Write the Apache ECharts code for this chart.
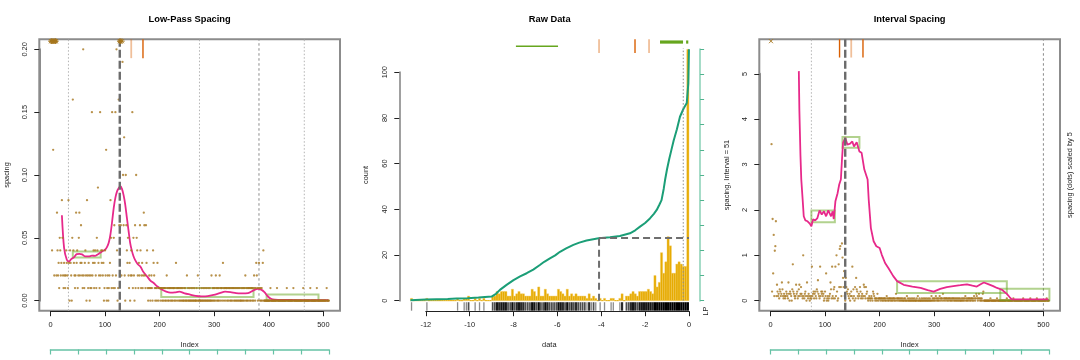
<!DOCTYPE html>
<html><head><meta charset="utf-8">
<script src="https://cdn.jsdelivr.net/npm/echarts@6/dist/echarts.min.js"></script>
<style>html,body{margin:0;padding:0;background:#fff}#c{width:1080px;height:360px}</style>
</head><body><div id="c"></div>
<script>
// ---------------- DATA ----------------
// spacing values (in hundredths) for index 1..510
const spacingHundredths = [
 130,69,4,36,12,29,2,22,24,35,
 2,7,4,2,3,1,5,4,2,3,
 8,5,2,1,3,2,1,2,4,3,
 2,1,8,3,0,4,3,2,0,5,
 16,4,3,2,1,2,7,3,4,1,
 2,5,7,2,3,6,3,2,1,20,
 2,1,3,4,2,0,8,2,1,3,
 2,0,1,2,1,15,2,3,4,1,
 3,4,2,1,5,4,9,3,2,1,
 15,2,4,3,4,2,3,0,1,4,
 2,12,0,1,2,0,1,2,3,8,
 5,1,15,2,1,5,6,1,15,2,
 20,4,0,1,16,6,22.8,24,6,2,
 25.2,19,10,6,13,2,0,10,6,4,
 3,5,2,1,3,0,2,4,2,15,
 1,5,2,0,6,1,10,5,4,2,
 1,3,2,6,4,1,2,3,1,2,
 7,6,2,1,6,3,4,1,0,1,
 2,1,0,1,2,1,0,4,3,2,
 1,0,1,1,0,3,1,0,1,1,
 1,0,1,1,0,1,0,1,1,0,
 1,0,2,1,0,1,0,1,1,0,
 1,0,1,0,1,1,0,1,0,3,
 1,0,1,1,0,1,0,1,0,1,
 0,1,0,0,1,0,1,0,0,2,
 0,1,0,0,1,0,0,1,0,0,
 1,0,0,1,0,0,0,1,0,2,
 0,0,1,0,0,0,1,0,0,1,
 0,0,1,0,0,1,0,0,1,0,
 0,1,0,0,2,0,1,0,1,0,
 1,0,2,1,0,1,0,1,0,2,
 1,0,1,1,0,3,1,0,1,1,
 0,1,1,0,1,0,1,1,0,1,
 0,1,0,1,1,0,1,0,1,0,
 1,0,1,0,1,0,1,0,0,1,
 0,1,0,1,0,1,2,0,1,0,
 1,0,1,1,0,1,0,1,1,0,
 1,0,2,1,0,1,3,2,1,0,
 1,3,1,0,1,0,1,0,3,4,
 0,0,0,0,0,0,0,0,0,0,
 0,0,1,0,0,0,0,0,0,0,
 0,0,0,0,1,0,0,0,0,0,
 0,0,0,0,0,0,0,0,0,0,
 0,0,1,0,0,0,0,0,0,0,
 0,0,0,0,1,0,0,0,0,0,
 0,0,0,0,0,0,0,0,0,0,
 0,0,1,0,0,0,0,0,0,0,
 0,0,0,0,0,1,0,0,0,0,
 0,0,0,0,0,0,0,1,0,0,
 0,0,0,0,0,0,0,0,0,0,
 0,0,0,0,0,1,0,0,0,0
];
const lowPass = [[21,0.068],[25,0.042],[30,0.0325],[34,0.031],[38,0.033],[43,0.0345],[48,0.037],[53,0.0372],[58,0.0368],[64,0.0352],[70,0.0352],[76,0.0358],[82,0.0357],[88,0.0372],[94,0.039],[100,0.0405],[104,0.043],[107,0.0465],[110,0.053],[113,0.063],[116,0.074],[119,0.082],[122,0.087],[125,0.0895],[128,0.0912],[131,0.089],[134,0.084],[137,0.0765],[140,0.066],[143,0.056],[146,0.046],[149,0.04],[152,0.0355],[155,0.0325],[160,0.029],[165,0.027],[170,0.023],[177,0.0193],[183,0.016],[189,0.014],[196,0.0113],[204,0.0089],[212,0.0072],[220,0.0064],[228,0.0066],[236,0.0072],[246,0.0058],[256,0.0048],[266,0.0038],[277,0.0034],[288,0.0036],[299,0.0046],[310,0.006],[320,0.0072],[330,0.0068],[340,0.006],[350,0.0058],[362,0.006],[372,0.0082],[380,0.0093],[386,0.0088],[392,0.0068],[398,0.0035],[404,0.0015],[411,0.0008],[425,0.0006],[440,0.0006],[460,0.0004],[485,0.0003],[509,0.0003]];
const lowPassBoxes = [[41,92,0.0344,0.0391],[203,372,0.003,0.010],[396,491,0.0002,0.0048]];
const lowPassDotted = [33,273,465];
const lowPassDashed = [382];
const lowPassPeak = 127;
const lowPassOrangeDark = [169.5];
const lowPassOrangeLight = [148];

const histStart = -12.7, histWidth = 0.1;
const histCounts = [
 1,0,0,0,0,0,0,
 1,0,0,0,0,0,0,0,0,0,
 0,0,0,0,1,0,0,1,1,2,
 0,0,1,0,1,0,1,0,0,0,
 2,2,4,3,4,4,4,2,2,5,
 2,3,4,3,3,2,2,2,5,4,
 2,6,2,2,5,3,2,2,2,2,
 5,4,3,2,5,2,3,2,3,2,
 2,2,2,1,3,1,2,1,0,1,
 0,1,0,0,1,1,0,0,1,3,
 0,2,2,3,4,3,2,4,4,4,
 4,5,4,3,11,6,8,21,12,17,
 28,24,12,12,16,17,16,15,15,110
];
const ecdfCurve = [[-12.7,0.2],[-12.0,0.5],[-11.0,0.7],[-10.6,0.9],[-10.1,1.1],[-9.6,1.4],[-9.0,1.8],[-8.8,3.0],[-8.62,4.7],[-8.3,7.0],[-8.0,9.0],[-7.7,10.6],[-7.4,12.0],[-7.1,13.6],[-6.8,15.6],[-6.6,17.0],[-6.34,18.5],[-6.1,19.8],[-5.88,21.4],[-5.6,22.9],[-5.27,24.4],[-5.0,25.4],[-4.67,26.3],[-4.12,27.3],[-3.6,27.8],[-3.15,28.3],[-2.69,29.5],[-2.45,30.8],[-2.23,32.4],[-2.0,34.0],[-1.78,36.0],[-1.6,38.0],[-1.47,39.7],[-1.35,42.0],[-1.25,44.0],[-1.15,49.0],[-1.09,52.8],[-1.0,57.5],[-0.9,62.0],[-0.8,66.0],[-0.7,70.0],[-0.55,75.0],[-0.41,80.5],[-0.25,84.0],[-0.1,86.5],[-0.03,95.0],[0,110]];
const rawCut = [-4.1, 27.4];
const rawDottedX = -0.26;
const rawGreenThin = [-7.89,-5.97];
const rawGreenThick = [-1.32,-0.27];
const rawGreenDot = -0.08;
const rawOrangeDark = [-2.46];
const rawOrangeLight = [-4.1,-1.82];

const intervalSpacing = [[52,5.06],[53,4.2],[55,3.2],[56.5,2.67],[59,2.23],[61,1.86],[64,1.77],[68,1.75],[72,1.7],[75,1.64],[78,1.79],[82,1.77],[86,1.82],[90,1.99],[94,1.9],[98,1.97],[102,1.86],[106,1.99],[111,1.86],[114,1.97],[116,1.8],[119,2.19],[123,2.37],[126,2.56],[129,2.67],[131,3.1],[133,3.48],[137,3.59],[141,3.44],[146,3.46],[150,3.51],[153,3.4],[158,3.49],[163,3.29],[167,3.26],[172,2.89],[175,2.89],[178,2.67],[180,2.23],[184,1.6],[189,1.31],[194,1.2],[200,1.16],[204,1.01],[210,0.83],[216,0.72],[225,0.54],[232,0.43],[244,0.35],[260,0.31],[275,0.28],[288,0.23],[299,0.2],[311,0.26],[323,0.3],[335,0.32],[348,0.34],[360,0.36],[370,0.33],[378,0.31],[385,0.36],[391,0.4],[400,0.36],[408,0.32],[415,0.28],[424,0.24],[433,0.15],[438,0.08],[442,0.03],[457,0.03],[480,0.03],[509,0.03]];
const intervalBoxes = [[75,118,1.73,1.99],[132,163,3.37,3.61],[232,433,0.17,0.43],[421,511,0.007,0.265]];
const intervalDotted = [75];
const intervalDashed = [500];
const intervalPeak = 137;
const intervalOrangeDark = [126.6,169.5];
const intervalOrangeLight = [148];
const dotScale = 5;

// tick labels
const indexTicks = [0,100,200,300,400,500];
const lowPassTicks = [0,0.05,0.10,0.15,0.20];
const countTicks = [0,20,40,60,80,100];
const dataTicks = [-12,-10,-8,-6,-4,-2,0];
const intervalTicks = [0,1,2,3,4,5];
const intervalWidth = 51, nIndex = 510;

// ---------------- LAYOUT ----------------
const FONT = '"Liberation Sans", Arial, Helvetica, sans-serif';
const B1 = {l:39.3, r:340, t:39.3, b:310.7};
const B2 = {l:399.3, r:700.1, t:39.3, b:310.7};
const B3 = {l:759.3, r:1060, t:39.3, b:310.7};
function ext(lo, hi){ const d=(hi-lo)*0.04; return [lo-d, hi+d]; }
const X1 = ext(0,nIndex), Y1 = ext(0,0.2);
const X2 = ext(-12.7,0), Y2 = ext(0,110);
const X3 = ext(0,nIndex), Y3 = ext(0,5.54);
function mapper(B,X,Y){ return {
  px: v => B.l + (v-X[0])/(X[1]-X[0])*(B.r-B.l),
  py: v => B.b - (v-Y[0])/(Y[1]-Y[0])*(B.b-B.t) }; }
const M1 = mapper(B1,X1,Y1), M2 = mapper(B2,X2,Y2), M3 = mapper(B3,X3,Y3);
function boxGrid(B, border){ return {left:B.l, top:B.t, width:B.r-B.l, height:B.b-B.t, show:border, borderColor:'#8c8c8c', borderWidth:2, containLabel:false, outerBoundsMode:'none'}; }
function subGrid(M, xr, yr){ const l=M.px(xr[0]), r=M.px(xr[1]), t=M.py(yr[1]), b=M.py(yr[0]);
  return {left:l, top:t, width:r-l, height:b-t, show:false, containLabel:false, outerBoundsMode:'none'}; }
function greenGrid(M){ const l=M.px(0), r=M.px(nIndex); return {left:l, top:339.5, width:r-l, height:10, show:false, containLabel:false, outerBoundsMode:'none'}; }

const LBL = {color:'#222', fontSize:7.4, fontFamily:FONT};
function hidden(gi, r){ return {gridIndex:gi, type:'value', min:r[0], max:r[1], show:false}; }
function tickX(gi, ticks, offset, fmt){ return {gridIndex:gi, type:'value', position:'bottom', min:ticks[0], max:ticks[ticks.length-1], interval:ticks[1]-ticks[0], offset,
  axisLine:{show:true, onZero:false, lineStyle:{color:'#222', width:1}}, axisTick:{show:true, length:5, lineStyle:{color:'#222'}},
  axisLabel:Object.assign({show:true, margin:10, formatter:fmt, showMinLabel:true, showMaxLabel:true}, LBL), splitLine:{show:false}}; }
function tickY(gi, ticks, offset, fmt, lineCol, lineW){ return {gridIndex:gi, type:'value', position:'left', min:ticks[0], max:ticks[ticks.length-1], interval:ticks[1]-ticks[0], offset,
  axisLine:{show:true, onZero:false, lineStyle:{color:lineCol, width:lineW}}, axisTick:{show:true, length:5, lineStyle:{color:'#222'}},
  axisLabel:Object.assign({show:true, margin:11, rotate:90, formatter:fmt, showMinLabel:true, showMaxLabel:true}, LBL), splitLine:{show:false}}; }
function greenX(gi){ return {gridIndex:gi, type:'value', position:'bottom', min:0, max:nIndex, interval:intervalWidth,
  axisLine:{show:true, onZero:false, lineStyle:{color:'#66c2a5', width:1.5}}, axisTick:{show:true, length:5, lineStyle:{color:'#66c2a5', width:1.2}},
  axisLabel:{show:false}, splitLine:{show:false}}; }

// ---------------- SERIES HELPERS ----------------
function segSeries(xi, yi, data, style, z){
  return {type:'custom', xAxisIndex:xi, yAxisIndex:yi, z:z||2, silent:true, data, encode:{x:[0,2], y:[1,3]},
    renderItem(p, api){ const a=api.coord([api.value(0),api.value(1)]), b=api.coord([api.value(2),api.value(3)]);
      return {type:'line', shape:{x1:a[0],y1:a[1],x2:b[0],y2:b[1]}, style:Object.assign({fill:null}, style)}; }};
}
function rectSeries(xi, yi, data, style, z){
  return {type:'custom', xAxisIndex:xi, yAxisIndex:yi, z:z||2, silent:true, data, encode:{x:[0,1], y:[2,3]},
    renderItem(p, api){ const a=api.coord([api.value(0),api.value(3)]), b=api.coord([api.value(1),api.value(2)]);
      return {type:'rect', shape:{x:a[0],y:a[1],width:b[0]-a[0],height:b[1]-a[1]}, style:Object.assign({fill:null}, style)}; }};
}
function markSeries(xi, yi, data, kind, z){
  return {type:'custom', xAxisIndex:xi, yAxisIndex:yi, z:z||4, silent:true, data, encode:{x:0, y:1},
    renderItem(p, api){ const c=api.coord([api.value(0),api.value(1)]); const r=2.8, d=r*0.72;
      const st={stroke:'#a6761d', lineWidth:0.9, fill:null};
      const L=(x1,y1,x2,y2)=>({type:'line', shape:{x1:c[0]+x1,y1:c[1]+y1,x2:c[0]+x2,y2:c[1]+y2}, style:st});
      const ch = kind==='x' ? [L(-d,-d,d,d),L(-d,d,d,-d)] : [L(-r,0,r,0),L(0,-r,0,r),L(-d,-d,d,d),L(-d,d,d,-d)];
      return {type:'group', children:ch}; }};
}
function vlinesData(xs, y0, y1){ return xs.map(x=>[x,y0,x,y1]); }

// derived point sets
const spacing = spacingHundredths.map((v,i)=>[i+1, v/100]);
const lpDots = spacing.filter(p=>p[1]<=0.2);
const lpOff = spacing.filter(p=>p[1]>0.2).map(p=>[p[0], 0.2065]);
const ivAll = spacing.map(p=>[p[0], p[1]*dotScale]);
const ivDots = ivAll.filter(p=>p[1]<=5.54);
const ivOff = ivAll.filter(p=>p[1]>5.54).map(p=>[p[0], 5.72]);

const dottedStyle = {stroke:'#b3b3b3', lineWidth:1, lineDash:[1.5,2]};
const dashedStyle = {stroke:'#8a8a8a', lineWidth:1, lineDash:[2.5,2.5]};
const peakStyle = {stroke:'#6b6b6b', lineWidth:2.4, lineDash:[8,3]};
const boxStyle = {stroke:'rgba(102,166,30,0.5)', lineWidth:2};
const orDark = {stroke:'#d95f02', lineWidth:1.4};
const orLight = {stroke:'rgba(217,95,2,0.4)', lineWidth:1.8};

// histogram
const histData = histCounts.map((c,i)=>[histStart + i*histWidth, c]);
const histSeries = {type:'custom', xAxisIndex:3, yAxisIndex:3, z:2, silent:true, data:histData, encode:{x:0, y:1},
  renderItem(p, api){ const x=api.value(0), c=api.value(1);
    const a=api.coord([x, c]), b=api.coord([x+histWidth, 0]);
    if (c===0) return {type:'line', shape:{x1:a[0],y1:b[1],x2:b[0],y2:b[1]}, style:{stroke:'#e6ab02', lineWidth:1}};
    return {type:'rect', shape:{x:a[0],y:a[1],width:b[0]-a[0],height:b[1]-a[1]}, style:{fill:'#e6ab02', stroke:'#f2c95a', lineWidth:0.4}}; }};
const rugSeries = {type:'custom', xAxisIndex:3, yAxisIndex:3, z:2, silent:true, data:histData, encode:{x:0, y:1},
  renderItem(p, api){ const x=api.value(0), c=api.value(1); if (!c) return null;
    const a=api.coord([x, Y2[0]]), b=api.coord([x+histWidth, Y2[0]]);
    const f=Math.min(1, 0.4+0.2*c), al=1-Math.pow(0.55,c), w=(b[0]-a[0]);
    return {type:'rect', shape:{x:a[0]+w*(1-f)/2, y:a[1]-8.5, width:w*f, height:8.5}, style:{fill:'rgba(0,0,0,'+al.toFixed(3)+')'}}; }};

const option = {
  animation:false, backgroundColor:'#fff',
  grid:[ boxGrid(B1,true), subGrid(M1,[0,500],[0,0.2]), greenGrid(M1),
         boxGrid(B2,false), subGrid(M2,[-12,0],[0,100]), subGrid(M2,[-12,0],[0,110]),
         boxGrid(B3,true), subGrid(M3,[0,500],[0,5]), greenGrid(M3) ],
  xAxis:[ hidden(0,X1), tickX(1,indexTicks,B1.b-M1.py(0)+0.5,v=>String(v)), greenX(2),
          hidden(3,X2), tickX(4,dataTicks,B2.b-M2.py(0)+0.5,v=>String(v)), hidden(5,[-12,0]),
          hidden(6,X3), tickX(7,indexTicks,B3.b-M3.py(0)+0.5,v=>String(v)), greenX(8) ],
  yAxis:[ hidden(0,Y1), tickY(1,lowPassTicks,M1.px(0)-B1.l,v=>v.toFixed(2),'#8c8c8c',2), hidden(2,[0,1]),
          hidden(3,Y2), tickY(4,countTicks,M2.px(-12)-B2.l,v=>String(v),'#a0a0a0',2),
          {gridIndex:5, type:'value', position:'right', min:0, max:1, interval:0.1, offset:B2.r-M2.px(0),
           axisLine:{show:true, onZero:false, lineStyle:{color:'#a6dcc8', width:2}}, axisTick:{show:true, length:4, lineStyle:{color:'#4fb38e'}},
           axisLabel:{show:false}, splitLine:{show:false}},
          hidden(6,Y3), tickY(7,intervalTicks,M3.px(0)-B3.l,v=>String(v),'#8c8c8c',2), hidden(8,[0,1]) ],
  series:[
    // panel 1
    segSeries(0,0,vlinesData(lowPassDotted,Y1[0],Y1[1]),dottedStyle,1),
    segSeries(0,0,vlinesData(lowPassDashed,Y1[0],Y1[1]),dashedStyle,1),
    rectSeries(0,0,lowPassBoxes,boxStyle,2),
    {type:'line', xAxisIndex:0, yAxisIndex:0, z:2, silent:true, data:lowPass, showSymbol:false, smooth:0.3, lineStyle:{color:'#e7298a', width:1.8}},
    {type:'scatter', xAxisIndex:0, yAxisIndex:0, z:3, silent:true, data:lpDots, symbol:'circle', symbolSize:2.3, itemStyle:{color:'#a6761d'}},
    segSeries(0,0,vlinesData([lowPassPeak],Y1[0],Y1[1]),peakStyle,5),
    markSeries(0,0,lpOff,'star',6),
    segSeries(0,0,vlinesData(lowPassOrangeLight,Y1[1],0.193),orLight,6),
    segSeries(0,0,vlinesData(lowPassOrangeDark,Y1[1],0.193),orDark,6),
    // panel 2
    histSeries, rugSeries,
    {type:'line', xAxisIndex:3, yAxisIndex:3, z:4, silent:true, data:ecdfCurve, showSymbol:false, lineStyle:{color:'#1b9e77', width:2}},
    segSeries(3,3,[[rawCut[0],0,rawCut[0],rawCut[1]],[rawCut[0],rawCut[1],0,rawCut[1]]],{stroke:'#6e6e6e', lineWidth:2, lineDash:[7,4]},5),
    segSeries(3,3,[[rawDottedX,0,rawDottedX,110.5]],{stroke:'#8c8c8c', lineWidth:1, lineDash:[1.5,2]},5),
    segSeries(3,3,[[rawGreenThin[0],111.4,rawGreenThin[1],111.4]],{stroke:'#66a61e', lineWidth:1.5},5),
    segSeries(3,3,[[rawGreenThick[0],113.2,rawGreenThick[1],113.2],[rawGreenDot-0.05,113.2,rawGreenDot+0.05,113.2]],{stroke:'#66a61e', lineWidth:3.2},5),
    segSeries(3,3,vlinesData(rawOrangeLight,Y2[1],108.4),orLight,5),
    segSeries(3,3,vlinesData(rawOrangeDark,Y2[1],108.4),orDark,5),
    // panel 3
    segSeries(6,6,vlinesData(intervalDotted,Y3[0],Y3[1]),dottedStyle,1),
    segSeries(6,6,vlinesData(intervalDashed,Y3[0],Y3[1]),dashedStyle,1),
    {type:'scatter', xAxisIndex:6, yAxisIndex:6, z:2, silent:true, data:ivDots, symbol:'circle', symbolSize:2.3, itemStyle:{color:'#a6761d'}},
    rectSeries(6,6,intervalBoxes,boxStyle,3),
    {type:'line', xAxisIndex:6, yAxisIndex:6, z:4, silent:true, data:intervalSpacing, showSymbol:false, lineStyle:{color:'#e7298a', width:1.8}},
    segSeries(6,6,vlinesData([intervalPeak],Y3[0],Y3[1]),peakStyle,5),
    markSeries(6,6,ivOff,'x',6),
    segSeries(6,6,vlinesData(intervalOrangeLight,Y3[1],5.36),orLight,6),
    segSeries(6,6,vlinesData(intervalOrangeDark,Y3[1],5.36),orDark,6)
  ],
  graphic:[
    {type:'text', x:189.6, y:19.5, style:{text:'Low-Pass Spacing', fontSize:9.3, fontWeight:'bold', fontFamily:FONT, fill:'#000', align:'center', verticalAlign:'middle'}},
    {type:'text', x:549.7, y:19.5, style:{text:'Raw Data', fontSize:9.3, fontWeight:'bold', fontFamily:FONT, fill:'#000', align:'center', verticalAlign:'middle'}},
    {type:'text', x:909.6, y:19.5, style:{text:'Interval Spacing', fontSize:9.3, fontWeight:'bold', fontFamily:FONT, fill:'#000', align:'center', verticalAlign:'middle'}},
    {type:'text', x:189.6, y:345, style:{text:'Index', fontSize:7.4, fontFamily:FONT, fill:'#222', align:'center', verticalAlign:'middle'}},
    {type:'text', x:549.3, y:345, style:{text:'data', fontSize:7.4, fontFamily:FONT, fill:'#222', align:'center', verticalAlign:'middle'}},
    {type:'text', x:909.6, y:345, style:{text:'Index', fontSize:7.4, fontFamily:FONT, fill:'#222', align:'center', verticalAlign:'middle'}},
    {type:'text', x:6.5, y:175, rotation:Math.PI/2, style:{text:'spacing', fontSize:7.4, fontFamily:FONT, fill:'#222', align:'center', verticalAlign:'middle'}},
    {type:'text', x:365.5, y:175, rotation:Math.PI/2, style:{text:'count', fontSize:7.4, fontFamily:FONT, fill:'#222', align:'center', verticalAlign:'middle'}},
    {type:'text', x:705.5, y:311, rotation:Math.PI/2, style:{text:'LP', fontSize:7.4, fontFamily:FONT, fill:'#222', align:'center', verticalAlign:'middle'}},
    {type:'text', x:726.5, y:175, rotation:Math.PI/2, style:{text:'spacing, Interval = 51', fontSize:7.4, fontFamily:FONT, fill:'#222', align:'center', verticalAlign:'middle'}},
    {type:'text', x:1070, y:175, rotation:Math.PI/2, style:{text:'spacing (dots) scaled by 5', fontSize:7.4, fontFamily:FONT, fill:'#222', align:'center', verticalAlign:'middle'}}
  ]
};
const chart = echarts.init(document.getElementById('c'), null, {renderer:'canvas', width:1080, height:360});
chart.setOption(option);
</script></body></html>
